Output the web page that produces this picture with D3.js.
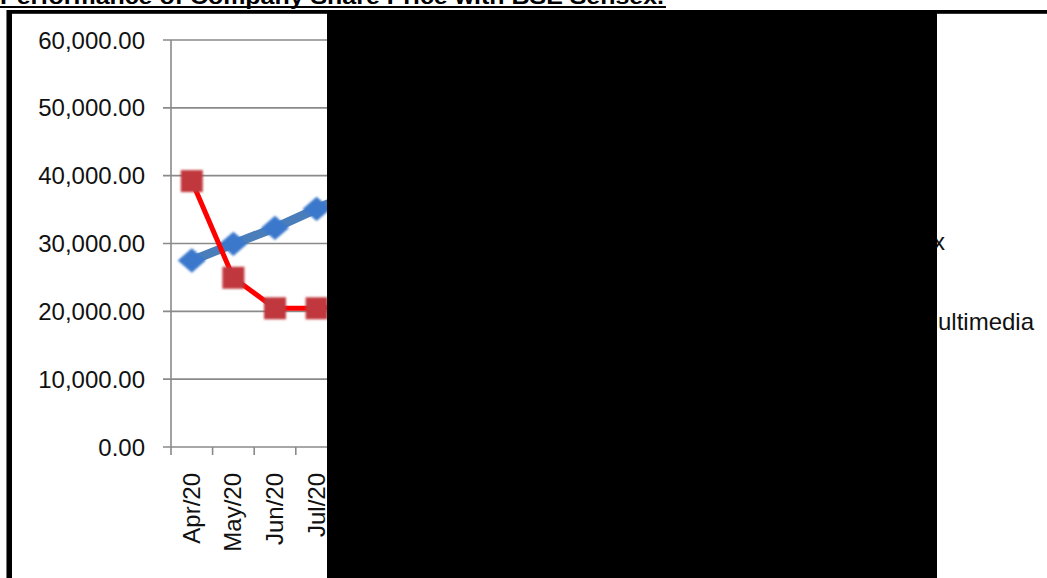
<!DOCTYPE html>
<html><head><meta charset="utf-8">
<script src="https://cdn.jsdelivr.net/npm/d3@7/dist/d3.min.js"></script>
<style>html,body{margin:0;padding:0;background:#fff;overflow:hidden}</style>
</head><body>
<svg id="c" width="1047" height="578"></svg>
<script>
const categories = ["Apr/20","May/20","Jun/20","Jul/20","Aug/20","Sep/20","Oct/20","Nov/20","Dec/20","Jan/21","Feb/21","Mar/21"];
const sensex = [27500, 29950, 32300, 35100, 37800, 38500, 39000, 42500, 46000, 48500, 49500, 50000];
const company = [39200, 24950, 20450, 20450, 21000, 22000, 22500, 23000, 24000, 25000, 26000, 27000];
const yTicks = [0, 10000, 20000, 30000, 40000, 50000, 60000];
const seriesNames = ["BSE Sensex", "Company Multimedia"];
const titleText = "Performance of Company Share Price with BSE Sensex.";

const svg = d3.select("#c");
const font = "'Liberation Sans', Arial, sans-serif";

// title (cropped at top, as in the reference)
svg.append("text").attr("x", 0).attr("y", 4).attr("font-family", font)
  .attr("font-weight", "bold").attr("font-size", 22).attr("textLength", 664)
  .attr("lengthAdjust", "spacingAndGlyphs").attr("fill", "#000").text(titleText);
svg.append("rect").attr("x", 0).attr("y", 6).attr("width", 666).attr("height", 2).attr("fill", "#000");

// frame
svg.append("rect").attr("x", 6).attr("y", 10).attr("width", 1041).attr("height", 4).attr("fill", "#333");
svg.append("rect").attr("x", 6).attr("y", 10).attr("width", 1041).attr("height", 3).attr("fill", "#000");
svg.append("rect").attr("x", 6).attr("y", 10).attr("width", 1).attr("height", 568).attr("fill", "#777");
svg.append("rect").attr("x", 7).attr("y", 10).attr("width", 5).attr("height", 568).attr("fill", "#000");

// scales
const x0 = 171, bw = 41.6;
const x = d3.scaleBand().domain(categories).range([x0, x0 + bw * categories.length]).padding(0);
const y = d3.scaleLinear().domain([0, 60000]).range([447, 40]);

// grid
const g = svg.append("g");
g.selectAll("line.grid").data(yTicks).join("line")
  .attr("x1", x0 - 8).attr("x2", x.range()[1]).attr("y1", d => y(d)).attr("y2", d => y(d))
  .attr("stroke", "#8a8a8a").attr("stroke-width", 1.6);
g.append("line").attr("x1", x0).attr("x2", x0).attr("y1", y(60000)).attr("y2", y(0) + 8)
  .attr("stroke", "#8a8a8a").attr("stroke-width", 1.6);
g.selectAll("line.xt").data(categories).join("line")
  .attr("x1", d => x(d) + bw).attr("x2", d => x(d) + bw).attr("y1", y(0)).attr("y2", y(0) + 8)
  .attr("stroke", "#8a8a8a").attr("stroke-width", 1.6);

// y labels
g.selectAll("text.yl").data(yTicks).join("text")
  .attr("x", 145).attr("y", d => y(d)).attr("dy", "0.36em").attr("text-anchor", "end")
  .attr("font-family", font).attr("font-size", 24).attr("fill", "#111")
  .text(d => d3.format(",.2f")(d));

// x labels
g.selectAll("text.xl").data(categories).join("text")
  .attr("transform", d => `translate(${x(d) + bw / 2 + 8},473) rotate(-90)`)
  .attr("text-anchor", "end").attr("font-family", font).attr("font-size", 24).attr("fill", "#111")
  .text(d => d);

const cx = d => x(d) + bw / 2;
const line = d3.line().x((d, i) => cx(categories[i])).y(d => y(d));

const defs = svg.append("defs");
const f = defs.append("filter").attr("id", "blur").attr("x", "-30%").attr("y", "-30%").attr("width", "160%").attr("height", "160%");
f.append("feGaussianBlur").attr("stdDeviation", 0.8);

// Sensex
svg.append("path").datum(sensex).attr("d", line).attr("fill", "none")
  .attr("stroke", "#4a7ebb").attr("stroke-width", 9);
svg.selectAll("path.dia").data(sensex).join("path")
  .attr("d", d3.symbol().type(d3.symbolDiamond2).size(380))
  .attr("transform", (d, i) => `translate(${cx(categories[i])},${y(d)}) scale(1.15,1)`)
  .attr("fill", "#3a78cc").attr("filter", "url(#blur)");

// Company
svg.append("path").datum(company).attr("d", line).attr("fill", "none")
  .attr("stroke", "#ff0000").attr("stroke-width", 5);
svg.selectAll("rect.sq").data(company).join("rect")
  .attr("x", (d, i) => cx(categories[i]) - 11).attr("y", d => y(d) - 11)
  .attr("width", 22).attr("height", 22).attr("fill", "#c0393c").attr("filter", "url(#blur)");

// legend
svg.append("text").attr("x", 945).attr("y", 250).attr("text-anchor", "end")
  .attr("font-family", font).attr("font-size", 24).attr("fill", "#111").text(seriesNames[0]);
svg.append("text").attr("x", 1034).attr("y", 330).attr("text-anchor", "end")
  .attr("font-family", font).attr("font-size", 24).attr("fill", "#111").text(seriesNames[1]);

// redaction block
svg.append("rect").attr("x", 327).attr("y", 13).attr("width", 610).attr("height", 565).attr("fill", "#000");
</script>
</body></html>
